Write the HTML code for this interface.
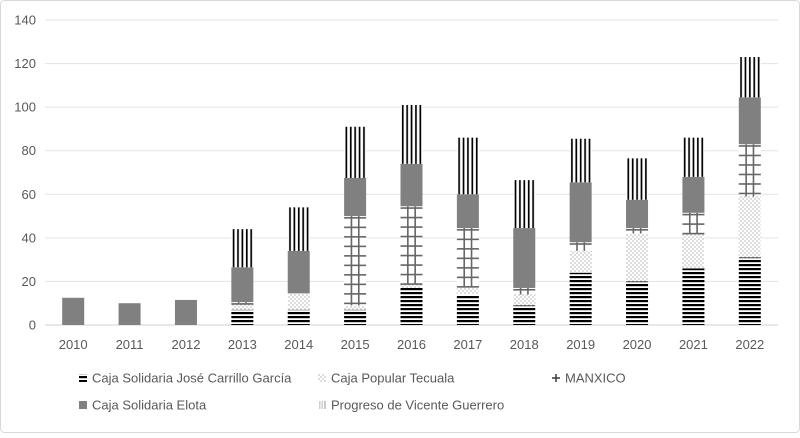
<!DOCTYPE html>
<html><head><meta charset="utf-8"><style>
body{margin:0;background:#fff;font-family:"Liberation Sans",sans-serif}
svg text{font-family:"Liberation Sans",sans-serif;fill:#595959;font-size:13px}
</style></head><body>
<svg id="c" width="800" height="433">
<defs>
<pattern id="pBlack" width="4" height="4" patternUnits="userSpaceOnUse"><rect width="4" height="4" fill="#fff"/><rect y="0" width="4" height="2.2" fill="#000"/></pattern>
<pattern id="pDots" width="4" height="4" patternUnits="userSpaceOnUse"><rect width="4" height="4" fill="#fff"/><rect x="0.5" y="0.5" width="1" height="1" fill="#777"/><rect x="2.5" y="2.5" width="1" height="1" fill="#777"/></pattern>
<pattern id="pVert" width="0.2" height="1" patternUnits="objectBoundingBox"><rect width="10" height="1000" fill="#fff"/><rect x="1.4" width="1.7" height="1000" fill="#000"/></pattern>
</defs>
<rect x="0.5" y="0.5" width="799" height="432" rx="4" fill="#fff" stroke="#d9d9d9"/>
<g id="grid"></g><g id="bars"></g><g id="axes"></g><g id="legend"></g>
</svg>
<script>
const years=['2010','2011','2012','2013','2014','2015','2016','2017','2018','2019','2020','2021','2022'];
const jose=[0,0,0,7,7,7,17,14,9,24,20,26,31];
const tecuala=[0,0,0,3,7.5,2,2,3.5,5,10,22,16,28];
const manxico=[0,0,0,0.5,0,41,35.5,27,3,4,2.5,9.5,24];
const elota=[12.5,10,11.5,16,19.5,17.5,19.5,15.5,27.5,27.5,13,16.5,21.5];
const progreso=[0,0,0,17.5,20,23.5,27,26,22,20,19,18,18.5];
const yTicks=[0,20,40,60,80,100,120,140];
const series=[['Caja Solidaria José Carrillo García',jose,'url(#pBlack)'],['Caja Popular Tecuala',tecuala,'url(#pDots)'],['MANXICO',manxico,'grid'],['Caja Solidaria Elota',elota,'#808080'],['Progreso de Vicente Guerrero',progreso,'url(#pVert)']];
const NS='http://www.w3.org/2000/svg';
const L=45,R=778,T=20,B=325;
const y=v=>B-(v/140)*(B-T);
const bw=(R-L)/years.length;
const x=i=>L+bw*(i+0.5);
function mk(t,a,p){const e=document.createElementNS(NS,t);for(const k in a)e.setAttribute(k,a[k]);p.appendChild(e);return e;}
const g=document.getElementById('grid'),b=document.getElementById('bars'),ax=document.getElementById('axes'),lg=document.getElementById('legend');
function gridFill(x0,y0,w,h,par){
 mk('rect',{x:x0,y:y0,width:w,height:h,fill:'#fff'},par);
 [w/3,2*w/3].forEach(d=>mk('rect',{x:x0+d-0.8,y:y0,width:1.6,height:h,fill:'#666'},par));
 for(let yy=y0+1;yy<y0+h;yy+=9.5)mk('rect',{x:x0,y:yy,width:w,height:1.6,fill:'#666'},par);
}
yTicks.forEach(v=>{
 const l=mk('line',{x1:L,x2:R,y1:y(v),y2:y(v),stroke:v==0?'#d0d0d0':'#e3e3e3','stroke-width':1},g);
 
 
 const t=mk('text',{x:36,y:y(v)+4.5,'text-anchor':'end'},ax);t.textContent=v;
 
 
});
years.forEach((yr,i)=>{
 const t=mk('text',{x:x(i),y:349,'text-anchor':'middle'},ax);t.textContent=yr;
 
 
 let c=0;
 series.forEach(([n,arr,f],si)=>{
  const v=arr[i];if(v<=0){return;}
  const x0=x(i)-11,y0=y(c+v),h=y(c)-y(c+v);
  if(f==='grid'){
   const gg=mk('g',{},b);
   
   
   gridFill(x0,y0,22,h,gg);
  }else{
   const r=mk('rect',{x:x0,y:y0,width:22,height:h,fill:f},b);
   
   
  }
  c+=v;
 });
});
const leg=[[83,378],[322,378],[556,378],[83,405],[322,405]];
series.forEach(([n,arr,f],si)=>{
 const [lx,ly]=leg[si];
 if(f==='grid'){
  const gg=mk('g',{},lg);
  
  
  mk('rect',{x:lx-0.8,y:ly-4,width:1.6,height:8,fill:'#444'},gg);
  mk('rect',{x:lx-4,y:ly-0.8,width:8,height:1.6,fill:'#444'},gg);
 }else{
  const sw=mk('rect',{x:lx-4,y:ly-4,width:8,height:8,fill:f},lg);
  
  
 }
 const t=mk('text',{x:lx+9,y:ly+4.5},lg);t.textContent=n;
 
 
});
</script>
</body></html>
